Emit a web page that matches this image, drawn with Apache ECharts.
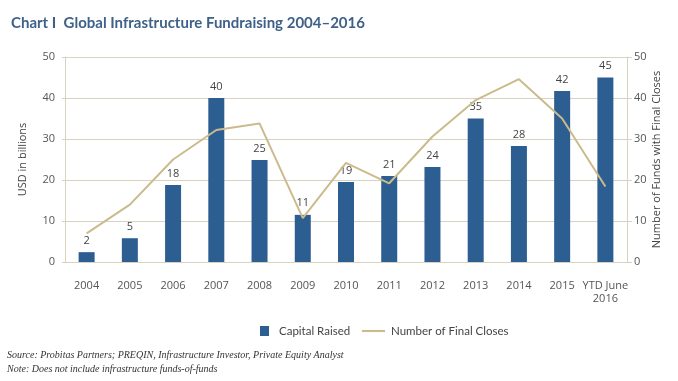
<!DOCTYPE html>
<html><head><meta charset="utf-8">
<script src="https://cdn.jsdelivr.net/npm/echarts@6/dist/echarts.min.js"></script>
<style>html,body{margin:0;padding:0;background:#fff}#c{width:678px;height:381px}</style>
</head><body><div id="c"></div>
<script>
const categories = ['2004','2005','2006','2007','2008','2009','2010','2011','2012','2013','2014','2015','YTD June\n2016'];
const capitalRaised = [2.4, 5.8, 18.8, 40, 24.9, 11.5, 19.5, 21, 23.2, 35, 28.3, 41.7, 45];
const capitalLabels = ['2','5','18','40','25','11','19','21','24','35','28','42','45'];
const finalCloses = [7, 14, 25, 32.2, 33.8, 10.7, 24.2, 19.2, 30.6, 39.5, 44.6, 35, 18.4];

const chart = echarts.init(document.getElementById('c'));
const axisText = {color:'#555', fontSize:11, fontFamily:'Open Sans'};
const legendText = {color:'#444', fontSize:11.5, fontFamily:'Lato'};
chart.setOption({
  animation:false,
  title:{text:'Chart I  Global Infrastructure Fundraising 2004–2016', left:6, top:11,
    textStyle:{color:'#3f6189', fontSize:15, fontWeight:'bold', fontFamily:'Lato'}},
  grid:{left:65, right:51, top:57, bottom:119},
  legend:[
    {top:320, left:255, itemWidth:9, itemHeight:10, textStyle:Object.assign({padding:[0,0,0,5]}, legendText),
     data:[{name:'Capital Raised', icon:'rect'}]},
    {top:320, left:357, itemWidth:23, itemHeight:10, textStyle:Object.assign({padding:[0,0,0,1]}, legendText),
     data:[{name:'Number of Final Closes', icon:'path://M0,4 L22,4 L22,6 L0,6 Z'}]}
  ],
  graphic:[
    {type:'text', left:7, top:350, style:{text:'Source: Probitas Partners; PREQIN, Infrastructure Investor, Private Equity Analyst', fill:'#333', font:'italic 10px "Liberation Serif"'}},
    {type:'text', left:7, top:364, style:{text:'Note: Does not include infrastructure funds-of-funds', fill:'#333', font:'italic 10px "Liberation Serif"'}}
  ],
  xAxis:{type:'category', data:categories,
    axisLine:{lineStyle:{color:'#d8d2c0'}}, axisTick:{show:false},
    axisLabel:Object.assign({margin:17, lineHeight:13, interval:0}, axisText)},
  yAxis:[
    {type:'value', min:0, max:50, interval:10, name:'USD in billions', nameLocation:'middle', nameGap:37,
     nameMoveOverlap:false,
     nameTextStyle:{color:'#444', fontSize:11, fontFamily:'Open Sans'},
     axisLine:{show:true, lineStyle:{color:'#d8d2c0'}}, axisTick:{show:true, length:3, lineStyle:{color:'#d8d2c0'}},
     axisLabel:Object.assign({margin:10}, axisText),
     splitLine:{lineStyle:{color:'#d8d2c0'}}},
    {type:'value', min:0, max:50, interval:10, name:'Number of Funds with Final Closes', nameLocation:'middle', nameGap:24,
     nameMoveOverlap:false,
     nameTextStyle:{color:'#444', fontSize:11, fontFamily:'Open Sans'},
     axisLine:{show:true, lineStyle:{color:'#d8d2c0'}}, axisTick:{show:true, length:5, lineStyle:{color:'#d8d2c0'}},
     axisLabel:Object.assign({margin:7}, axisText),
     splitLine:{show:false}}
  ],
  series:[
    {name:'Capital Raised', type:'bar', data:capitalRaised, barWidth:16, yAxisIndex:0,
     itemStyle:{color:'#2d5e91'},
     label:{show:true, position:'top', distance:6, color:'#444', fontSize:11, fontFamily:'Open Sans',
       formatter:p=>capitalLabels[p.dataIndex]}},
    {name:'Number of Final Closes', type:'line', data:finalCloses, yAxisIndex:1,
     symbol:'none', lineStyle:{color:'#cbbb8c', width:2}, itemStyle:{color:'#cbbb8c'}, z:3}
  ]
});
</script></body></html>
